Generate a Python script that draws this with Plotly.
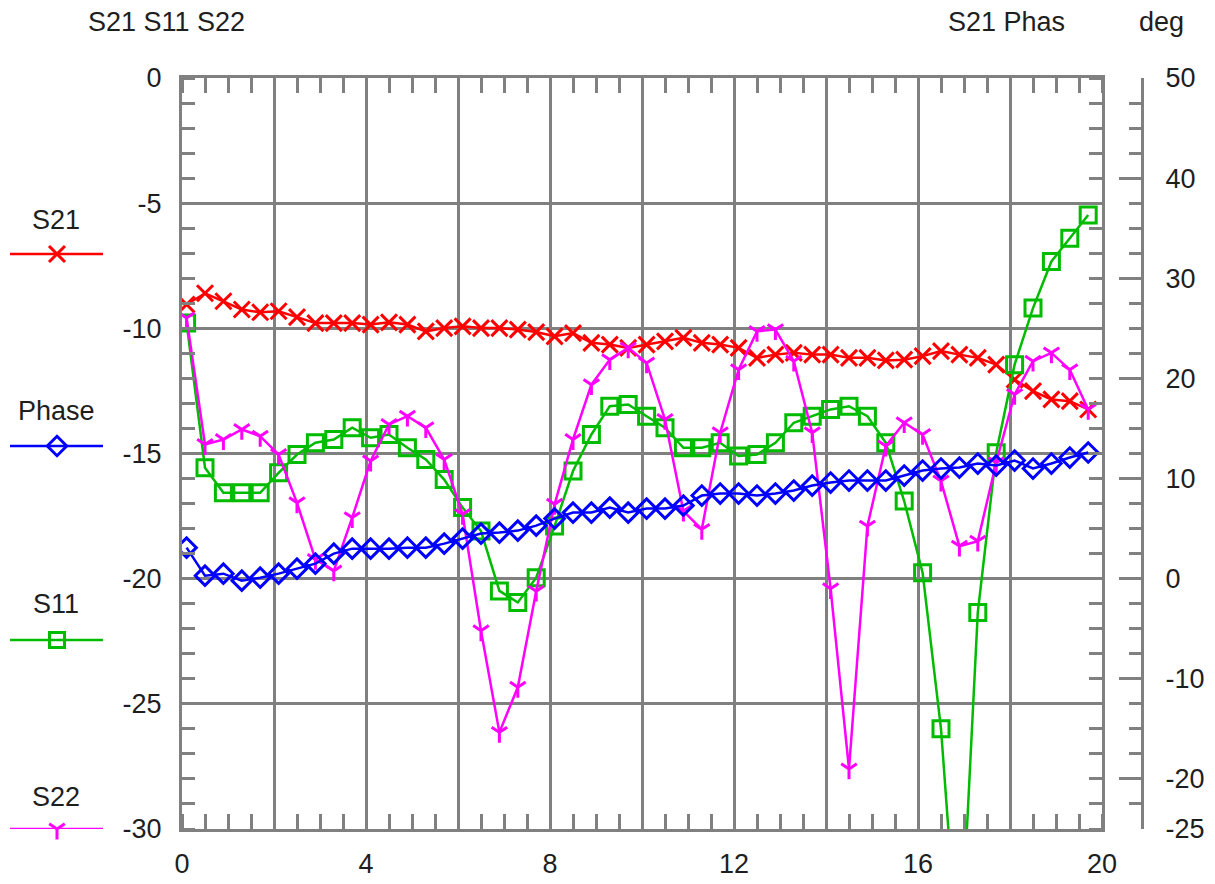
import plotly.graph_objects as go

# ---------------- data ----------------
freq = [0.1, 0.5, 0.9, 1.3, 1.7, 2.1, 2.5, 2.9, 3.3, 3.7,
        4.1, 4.5, 4.9, 5.3, 5.7, 6.1, 6.5, 6.9, 7.3, 7.7,
        8.1, 8.5, 8.9, 9.3, 9.7, 10.1, 10.5, 10.9, 11.3, 11.7,
        12.1, 12.5, 12.9, 13.3, 13.7, 14.1, 14.5, 14.9, 15.3, 15.7,
        16.1, 16.5, 16.9, 17.3, 17.7, 18.1, 18.5, 18.9, 19.3, 19.7]

s21 = [-9.05, -8.6, -8.92, -9.25, -9.36, -9.32, -9.55, -9.79, -9.79, -9.79,
       -9.85, -9.76, -9.85, -10.12, -9.99, -9.92, -9.99, -9.99, -10.05, -10.15,
       -10.32, -10.19, -10.58, -10.65, -10.78, -10.65, -10.52, -10.38, -10.58, -10.65,
       -10.78, -11.18, -11.05, -10.98, -11.05, -11.05, -11.18, -11.18, -11.28, -11.25,
       -11.11, -10.91, -11.05, -11.18, -11.45, -12.05, -12.51, -12.84, -12.91, -13.24]

phase = [3.1, 0.3, 0.5, -0.2, 0.1, 0.5, 1.0, 1.5, 2.5, 3.0,
         3.0, 3.0, 3.1, 3.1, 3.5, 4.0, 4.5, 4.6, 4.8, 5.3,
         6.0, 6.6, 6.6, 7.1, 6.6, 7.0, 7.0, 7.3, 8.3, 8.5,
         8.5, 8.3, 8.5, 8.8, 9.3, 9.6, 9.8, 9.8, 9.8, 10.3,
         10.8, 11.0, 11.1, 11.5, 11.3, 11.8, 11.0, 11.5, 12.1, 12.6]

s11 = [-9.79, -15.57, -16.57, -16.57, -16.57, -15.77, -15.04, -14.57, -14.44, -13.97,
       -14.37, -14.24, -14.77, -15.24, -16.04, -17.16, -18.10, -20.49, -20.95, -19.96,
       -17.9, -15.70, -14.24, -13.11, -13.04, -13.51, -13.97, -14.77, -14.77, -14.57,
       -15.10, -15.04, -14.57, -13.77, -13.51, -13.24, -13.11, -13.51, -14.57, -16.90,
       -19.76, -26.0, -36.0, -21.35, -14.97, -11.45, -9.19, -7.33, -6.40, -5.47]

s22 = [-9.59, -14.64, -14.44, -14.04, -14.31, -15.04, -16.97, -19.23, -19.69, -17.56,
       -15.30, -13.84, -13.51, -13.97, -15.24, -17.43, -22.08, -26.14, -24.34, -20.5,
       -17.03, -14.44, -12.25, -11.25, -10.78, -11.38, -13.64, -17.30, -18.03, -14.17,
       -11.65, -10.12, -10.05, -11.31, -14.17, -20.4, -27.6, -17.90, -14.70, -13.77,
       -14.24, -16.10, -18.70, -18.50, -15.37, -12.64, -11.31, -10.98, -11.65, -13.24]

x_ticks = [0, 2, 4, 6, 8, 10, 12, 14, 16, 18, 20]
x_labels = ["0", "", "4", "", "8", "", "12", "", "16", "", "20"]
left_ticks = [0, -5, -10, -15, -20, -25, -30]
left_labels = ["0", "-5", "-10", "-15", "-20", "-25", "-30"]
right_ticks = [50, 40, 30, 20, 10, 0, -10, -20, -25]
right_labels = ["50", "40", "30", "20", "10", "0", "-10", "-20", "-25"]

# ---------------- styling ----------------
W, H = 1215, 884
OFF = 8                                  # page (body) margin of the html page
PL, PR, PT, PB = 182, 1102, 78, 829      # plot box, screen pixels
RAX = 1142                               # right axis spine, screen pixels
fPT, fPB = PT - OFF, PB - OFF            # in figure pixels
GRID = "#808080"
TXT = "#1e1e1e"
FONT = "Liberation Sans, Arial, sans-serif"
FS = 27

RED, BLUE, GREEN, MAG = "#FF0000", "#0000FF", "#00BB00", "#FF00FF"
LW, MLW = 2.5, 3


def fx(p):
    """screen px -> figure (paper) x"""
    return (p - OFF) / W


def fy(p):
    """screen px -> paper y"""
    return (fPB - (p - OFF)) / (fPB - fPT)


fig = go.Figure()

fig.add_trace(go.Scatter(x=freq, y=s21, mode="lines+markers", name="S21",
                         line=dict(color=RED, width=LW),
                         marker=dict(symbol="x-thin", size=16, color=RED,
                                     line=dict(color=RED, width=MLW)),
                         xaxis="x", yaxis="y"))
fig.add_trace(go.Scatter(x=freq, y=s11, mode="lines+markers", name="S11",
                         line=dict(color=GREEN, width=LW),
                         marker=dict(symbol="square-open", size=16, color=GREEN,
                                     line=dict(color=GREEN, width=MLW)),
                         xaxis="x", yaxis="y"))
fig.add_trace(go.Scatter(x=freq, y=s22, mode="lines+markers", name="S22",
                         line=dict(color=MAG, width=LW),
                         marker=dict(symbol="y-down", size=13, color=MAG,
                                     line=dict(color=MAG, width=MLW)),
                         xaxis="x", yaxis="y"))
fig.add_trace(go.Scatter(x=freq, y=phase, mode="lines+markers", name="Phase",
                         line=dict(color=BLUE, width=LW),
                         marker=dict(symbol="diamond-open", size=15, color=BLUE,
                                     line=dict(color=BLUE, width=MLW)),
                         xaxis="x", yaxis="y2"))

# ---------------- hand-drawn legend (left margin) ----------------
legend_items = [
    ("S21", RED, "x-thin", 16, 220, 254),
    ("Phase", BLUE, "diamond-open", 15, 411, 446),
    ("S11", GREEN, "square-open", 15, 604, 640),
    ("S22", MAG, "y-down", 13, 797, 829),
]
annotations = []
for name, col, sym, sz, ty, ly in legend_items:
    fig.add_trace(go.Scatter(x=[10 - OFF, 103 - OFF], y=[ly - OFF, ly - OFF], mode="lines",
                             line=dict(color=col, width=LW),
                             xaxis="x3", yaxis="y3", cliponaxis=False,
                             showlegend=False, hoverinfo="skip"))
    fig.add_trace(go.Scatter(x=[57 - OFF], y=[ly - OFF], mode="markers",
                             marker=dict(symbol=sym, size=sz, color=col,
                                         line=dict(color=col, width=MLW)),
                             xaxis="x3", yaxis="y3", cliponaxis=False,
                             showlegend=False, hoverinfo="skip"))
    annotations.append(dict(text=name, x=fx(56), y=fy(ty), xref="paper", yref="paper",
                            showarrow=False, xanchor="center", yanchor="middle",
                            font=dict(family=FONT, size=FS, color=TXT)))

for txt, cx in [("S21 S11 S22", 166), ("S21 Phas", 1006), ("deg", 1161)]:
    annotations.append(dict(text=txt, x=fx(cx), y=fy(22), xref="paper", yref="paper",
                            showarrow=False, xanchor="center", yanchor="middle",
                            font=dict(family=FONT, size=FS, color=TXT)))

fig.update_layout(
    width=W, height=H,
    margin=dict(l=0, r=0, t=fPT, b=H - fPB, pad=0, autoexpand=False),
    paper_bgcolor="white",
    plot_bgcolor="rgba(0,0,0,0)",
    showlegend=False,
    font=dict(family=FONT, size=FS, color=TXT),
    annotations=annotations,
    xaxis=dict(
        domain=[fx(PL), fx(PR)], range=[0, 20], anchor="y", automargin=False,
        tickmode="array", tickvals=x_ticks, ticktext=x_labels,
        ticks="", showgrid=True, gridcolor=GRID, gridwidth=3,
        showline=True, linecolor=GRID, linewidth=3, mirror="ticks",
        zeroline=False, ticklabelstandoff=9,
        minor=dict(dtick=0.5, tick0=0, ticks="inside", ticklen=15,
                   tickwidth=3, tickcolor=GRID, showgrid=False),
        tickfont=dict(family=FONT, size=FS, color=TXT),
    ),
    yaxis=dict(
        domain=[0, 1], range=[-30, 0], anchor="x", automargin=False,
        tickmode="array", tickvals=left_ticks, ticktext=left_labels,
        ticks="", showgrid=True, gridcolor=GRID, gridwidth=3,
        showline=True, linecolor=GRID, linewidth=3, mirror="ticks",
        zeroline=False, ticklabelstandoff=12,
        minor=dict(dtick=1, tick0=0, ticks="inside", ticklen=13,
                   tickwidth=3, tickcolor=GRID, showgrid=False),
        tickfont=dict(family=FONT, size=FS, color=TXT),
    ),
    yaxis2=dict(
        overlaying="y", anchor="free", position=fx(RAX), side="right",
        automargin=False,
        range=[-25, 50], tickmode="array", tickvals=right_ticks, ticktext=right_labels,
        ticks="inside", ticklen=22, tickwidth=3, tickcolor=GRID,
        showgrid=False, zeroline=False,
        showline=True, linecolor=GRID, linewidth=3,
        ticklabelstandoff=16,
        minor=dict(dtick=2.5, tick0=0, ticks="inside", ticklen=12,
                   tickwidth=3, tickcolor=GRID, showgrid=False),
        tickfont=dict(family=FONT, size=FS, color=TXT),
    ),
    xaxis3=dict(domain=[0, 0.1], range=[0, 121.5], anchor="y3",
                visible=False, fixedrange=True, automargin=False),
    yaxis3=dict(domain=[0, 1], range=[fPB, fPT], anchor="x3",
                visible=False, fixedrange=True, automargin=False),
)

fig.write_html("out.html")
